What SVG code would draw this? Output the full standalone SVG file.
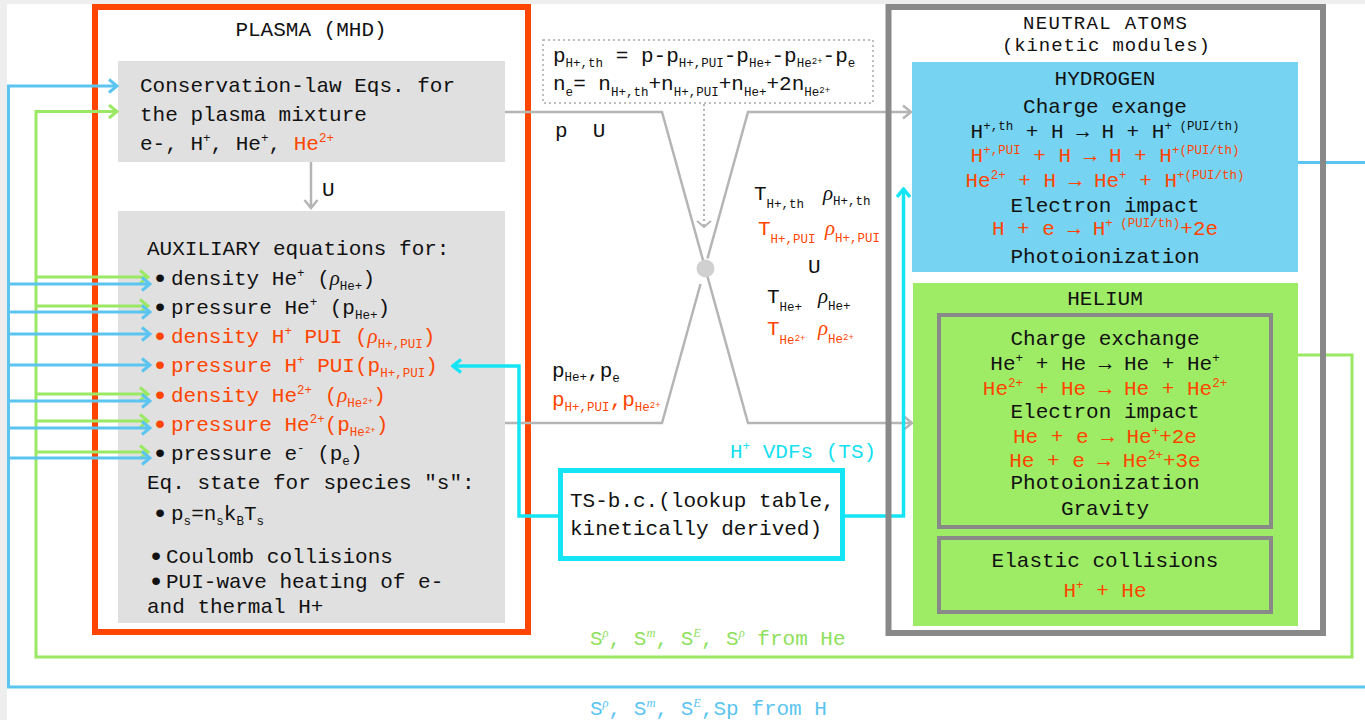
<svg xmlns="http://www.w3.org/2000/svg" width="1365" height="720" viewBox="0 0 1365 720">
<style>
.t{font-family:"Liberation Mono","DejaVu Sans Mono",monospace;font-size:21px;fill:#111;white-space:pre}
.o{fill:#ff4500}
.s{font-size:12.5px}
.ss{font-size:9px}
.r{font-family:"Liberation Serif","DejaVu Serif",serif;font-style:italic}
.m{text-anchor:middle}
.b{text-anchor:middle;stroke:#111;stroke-width:2}
.bo{fill:#ff4500;stroke:#ff4500}
.hd{font-size:19px}
.cy{fill:#14dff0}
.gl{fill:#8fe05c}
.bl{fill:#5bc4f0}
.box{fill:#e0e0e0}
.gline{fill:none;stroke:#b5b5b5;stroke-width:2.5}
.bline{fill:none;stroke:#5bc4f0;stroke-width:3}
.grline{fill:none;stroke:#9be864;stroke-width:3}
.cline{fill:none;stroke:#14e4f4;stroke-width:3.5}
</style>
<defs>
<marker id="mg" viewBox="0 0 12 16" refX="10" refY="8" markerWidth="12" markerHeight="16" markerUnits="userSpaceOnUse" orient="auto"><path d="M2,1.5 L10,8 L2,14.5" fill="none" stroke="#b5b5b5" stroke-width="2.5"/></marker>
<marker id="md" viewBox="0 0 16 10" refX="8" refY="8" markerWidth="16" markerHeight="10" markerUnits="userSpaceOnUse" orient="0"><path d="M1,2 L8,8 L15,2" fill="none" stroke="#b5b5b5" stroke-width="2"/></marker>
<marker id="mb" viewBox="0 0 12 16" refX="10" refY="8" markerWidth="12" markerHeight="16" markerUnits="userSpaceOnUse" orient="auto"><path d="M2,1.5 L10,8 L2,14.5" fill="none" stroke="#5bc4f0" stroke-width="3"/></marker>
<marker id="mgr" viewBox="0 0 12 16" refX="10" refY="8" markerWidth="12" markerHeight="16" markerUnits="userSpaceOnUse" orient="auto"><path d="M2,1.5 L10,8 L2,14.5" fill="none" stroke="#9be864" stroke-width="3"/></marker>
<marker id="mc" viewBox="0 0 12 16" refX="10" refY="8" markerWidth="12" markerHeight="16" markerUnits="userSpaceOnUse" orient="auto"><path d="M2,1.5 L10,8 L2,14.5" fill="none" stroke="#14e4f4" stroke-width="3.5"/></marker>
</defs>

<!-- page -->
<rect x="0" y="0" width="1365" height="720" fill="#eeeeee"/>
<rect x="7" y="4" width="1358" height="716" fill="#ffffff"/>

<!-- MHD plasma frame -->
<g id="plasma">
<rect x="95" y="7" width="433" height="625" fill="none" stroke="#ff4500" stroke-width="6"/>
<text class="t m" x="311" y="36">PLASMA (MHD)</text>
</g>

<g id="conservation">
<rect class="box" x="118" y="61" width="387" height="101"/>
<text class="t" x="140" y="92">Conservation-law Eqs. for</text>
<text class="t" x="140" y="121">the plasma mixture</text>
<text class="t" x="140" y="150">e-, H<tspan class="s" dy="-8">+</tspan><tspan dy="8">, He</tspan><tspan class="s" dy="-8">+</tspan><tspan dy="8">, </tspan><tspan class="o">He</tspan><tspan class="s o" dy="-8">2+</tspan></text>
</g>

<g id="auxiliary">
<rect class="box" x="118" y="211" width="387" height="412"/>
<text class="t" x="147" y="255">AUXILIARY equations for:</text>
<text class="t b" x="160" y="285">•</text>
<text class="t" x="171" y="285">density He<tspan class="s" dy="-8">+</tspan><tspan dy="8"> (</tspan><tspan class="r">ρ</tspan><tspan class="s" dy="5">He+</tspan><tspan dy="-5">)</tspan></text>
<text class="t b" x="160" y="314">•</text>
<text class="t" x="171" y="314">pressure He<tspan class="s" dy="-8">+</tspan><tspan dy="8"> (p</tspan><tspan class="s" dy="5">He+</tspan><tspan dy="-5">)</tspan></text>
<text class="t b bo" x="160" y="343">•</text>
<text class="t o" x="171" y="343">density H<tspan class="s" dy="-8">+</tspan><tspan dy="8"> PUI (</tspan><tspan class="r">ρ</tspan><tspan class="s" dy="5">H+,PUI</tspan><tspan dy="-5">)</tspan></text>
<text class="t b bo" x="160" y="372">•</text>
<text class="t o" x="171" y="372">pressure H<tspan class="s" dy="-8">+</tspan><tspan dy="8"> PUI(p</tspan><tspan class="s" dy="5">H+,PUI</tspan><tspan dy="-5">)</tspan></text>
<text class="t b bo" x="160" y="402">•</text>
<text class="t o" x="171" y="402">density He<tspan class="s" dy="-8">2+</tspan><tspan dy="8"> (</tspan><tspan class="r">ρ</tspan><tspan class="s" dy="5">He</tspan><tspan class="ss" dy="-3">2+</tspan><tspan dy="-2">)</tspan></text>
<text class="t b bo" x="160" y="431">•</text>
<text class="t o" x="171" y="431">pressure He<tspan class="s" dy="-8">2+</tspan><tspan dy="8">(p</tspan><tspan class="s" dy="5">He</tspan><tspan class="ss" dy="-3">2+</tspan><tspan dy="-2">)</tspan></text>
<text class="t b" x="160" y="460">•</text>
<text class="t" x="171" y="460">pressure e<tspan class="s" dy="-8">-</tspan><tspan dy="8"> (p</tspan><tspan class="s" dy="5">e</tspan><tspan dy="-5">)</tspan></text>
<text class="t" x="147" y="489">Eq. state for species "s":</text>
<text class="t b" x="160" y="520">•</text>
<text class="t" x="171" y="520">p<tspan class="s" dy="5">s</tspan><tspan dy="-5">=n</tspan><tspan class="s" dy="5">s</tspan><tspan dy="-5">k</tspan><tspan class="s" dy="5">B</tspan><tspan dy="-5">T</tspan><tspan class="s" dy="5">s</tspan></text>
<text class="t b" x="156" y="563">•</text>
<text class="t" x="166" y="563">Coulomb collisions</text>
<text class="t b" x="156" y="588">•</text>
<text class="t" x="166" y="588">PUI-wave heating of e-</text>
<text class="t" x="147" y="613">and thermal H+</text>
</g>

<!-- closure relations -->
<g id="closure">
<rect x="543" y="40" width="330" height="63" fill="none" stroke="#aaaaaa" stroke-width="1.5" stroke-dasharray="2 3"/>
<text class="t" x="553" y="62">p<tspan class="s" dy="5">H+,th</tspan><tspan dy="-5"> = p-p</tspan><tspan class="s" dy="5">H+,PUI</tspan><tspan dy="-5">-p</tspan><tspan class="s" dy="5">He+</tspan><tspan dy="-5">-p</tspan><tspan class="s" dy="5">He</tspan><tspan class="ss" dy="-3">2+</tspan><tspan dy="-2">-p</tspan><tspan class="s" dy="5">e</tspan></text>
<text class="t" x="553" y="90">n<tspan class="s" dy="6">e</tspan><tspan dy="-6">= n</tspan><tspan class="s" dy="6">H+,th</tspan><tspan dy="-6">+n</tspan><tspan class="s" dy="6">H+,PUI</tspan><tspan dy="-6">+n</tspan><tspan class="s" dy="6">He+</tspan><tspan dy="-6">+2n</tspan><tspan class="s" dy="6">He</tspan><tspan class="ss" dy="-3">2+</tspan></text>
</g>

<!-- exchanged quantities -->
<g id="labels">
<text class="t" x="555" y="137">p  U</text>
<text class="t" x="754" y="200">T<tspan class="s" dy="8">H+,th</tspan></text>
<text class="t" x="823" y="200"><tspan class="r">ρ</tspan><tspan class="s" dy="5">H+,th</tspan></text>
<text class="t o" x="758" y="235">T<tspan class="s" dy="8">H+,PUI</tspan></text>
<text class="t o" x="825" y="235"><tspan class="r">ρ</tspan><tspan class="s" dy="7">H+,PUI</tspan></text>
<text class="t" x="808" y="273">U</text>
<text class="t" x="767" y="303">T<tspan class="s" dy="8">He+</tspan></text>
<text class="t" x="818" y="303"><tspan class="r">ρ</tspan><tspan class="s" dy="7">He+</tspan></text>
<text class="t o" x="767" y="335">T<tspan class="s" dy="9">He</tspan><tspan class="ss" dy="-3">2+</tspan></text>
<text class="t o" x="818" y="335"><tspan class="r">ρ</tspan><tspan class="s" dy="8">He</tspan><tspan class="ss" dy="-3">2+</tspan></text>
<text class="t" x="552" y="377">p<tspan class="s" dy="4">He+</tspan><tspan dy="-4">,p</tspan><tspan class="s" dy="5">e</tspan></text>
<text class="t o" x="552" y="406">p<tspan class="s" dy="5">H+,PUI</tspan><tspan dy="-5">,p</tspan><tspan class="s" dy="5">He</tspan><tspan class="ss" dy="-3">2+</tspan></text>
<text class="t cy" x="730" y="458">H<tspan class="s" dy="-8">+</tspan><tspan dy="8"> VDFs (TS)</tspan></text>
<text class="t gl" x="590" y="645">S<tspan class="s r" dy="-8">ρ</tspan><tspan dy="8">, S</tspan><tspan class="s r" dy="-8">m</tspan><tspan dy="8">, S</tspan><tspan class="s r" dy="-8">E</tspan><tspan dy="8">, S</tspan><tspan class="s r" dy="-8">ρ</tspan><tspan dy="8"> from He</tspan></text>
<text class="t bl" x="590" y="715">S<tspan class="s r" dy="-8">ρ</tspan><tspan dy="8">, S</tspan><tspan class="s r" dy="-8">m</tspan><tspan dy="8">, S</tspan><tspan class="s r" dy="-8">E</tspan><tspan dy="8">,Sp from H</tspan></text>
</g>

<!-- connectors -->
<g id="connectors">
<line class="gline" x1="311" y1="162" x2="311" y2="208" marker-end="url(#mg)"/>
<text class="t" x="322" y="196">U</text>
<path class="gline" d="M505,112 H662 L748,423 H912" marker-end="url(#mg)"/>
<path class="gline" d="M505,423 H662 L700.5,284"/>
<path class="gline" d="M707.5,258.5 L748,112 H911" marker-end="url(#mg)"/>
<circle cx="705.5" cy="268.5" r="9" fill="#d0d0d0"/>
<line x1="704" y1="104" x2="704" y2="227" stroke="#b5b5b5" stroke-width="2" stroke-dasharray="2 3" marker-end="url(#md)"/>
<path class="cline" d="M558,516 H519 V366 H453" marker-end="url(#mc)"/>
<path class="cline" d="M845,516 H903.5 V189" marker-end="url(#mc)"/>
<path class="bline" d="M1298,162.5 H1365"/>
<path class="bline" d="M1365,687 H8.5 V86 H117" marker-end="url(#mb)"/>
<path class="grline" d="M1298,355 H1352 V657 H36 V111.5 H117" marker-end="url(#mgr)"/>
<path class="grline" d="M36,277 H148" marker-end="url(#mgr)"/>
<path class="grline" d="M36,306 H148" marker-end="url(#mgr)"/>
<path class="grline" d="M36,394 H148" marker-end="url(#mgr)"/>
<path class="grline" d="M36,421 H148" marker-end="url(#mgr)"/>
<path class="grline" d="M36,452 H148" marker-end="url(#mgr)"/>
<path class="bline" d="M8.5,284 H150" marker-end="url(#mb)"/>
<path class="bline" d="M8.5,312 H150" marker-end="url(#mb)"/>
<path class="bline" d="M8.5,334 H150" marker-end="url(#mb)"/>
<path class="bline" d="M8.5,365 H150" marker-end="url(#mb)"/>
<path class="bline" d="M8.5,401 H150" marker-end="url(#mb)"/>
<path class="bline" d="M8.5,428 H150" marker-end="url(#mb)"/>
<path class="bline" d="M8.5,458 H150" marker-end="url(#mb)"/>
</g>

<!-- termination-shock boundary condition -->
<g id="ts-bc">
<rect x="560.5" y="470.5" width="282" height="88" fill="#ffffff" stroke="#14e4f4" stroke-width="5"/>
<text class="t" x="570" y="507">TS-b.c.(lookup table,</text>
<text class="t" x="570" y="535">kinetically derived)</text>
</g>

<!-- kinetic neutral modules -->
<g id="neutral">
<rect x="888.5" y="7" width="434.5" height="626" fill="none" stroke="#898989" stroke-width="6"/>
<text class="t m hd" x="1105" y="29" textLength="164" lengthAdjust="spacing">NEUTRAL ATOMS</text>
<text class="t m hd" x="1106" y="51" textLength="208" lengthAdjust="spacing">(kinetic modules)</text>
</g>

<g id="hydrogen">
<rect x="912" y="62" width="386" height="210" fill="#76d4f2"/>
<text class="t m" x="1105" y="85">HYDROGEN</text>
<text class="t m" x="1105" y="113">Charge exange</text>
<text class="t m" x="1105" y="138">H<tspan class="s" dy="-8">+,th</tspan><tspan dy="8"> + H → H + H</tspan><tspan class="s" dy="-8">+ (PUI/th)</tspan></text>
<text class="t m o" x="1105" y="162">H<tspan class="s" dy="-8">+,PUI</tspan><tspan dy="8"> + H → H + H</tspan><tspan class="s" dy="-8">+(PUI/th)</tspan></text>
<text class="t m o" x="1105" y="187">He<tspan class="s" dy="-8">2+</tspan><tspan dy="8"> + H → He</tspan><tspan class="s" dy="-8">+</tspan><tspan dy="8"> + H</tspan><tspan class="s" dy="-8">+(PUI/th)</tspan></text>
<text class="t m" x="1105" y="212">Electron impact</text>
<text class="t m o" x="1105" y="235">H + e → H<tspan class="s" dy="-8">+ (PUI/th)</tspan><tspan dy="8">+2e</tspan></text>
<text class="t m" x="1105" y="263">Photoionization</text>
</g>

<g id="helium">
<rect x="913" y="283" width="385" height="343" fill="#9eec66"/>
<text class="t m" x="1105" y="305">HELIUM</text>
<rect x="939" y="315" width="332" height="212" fill="none" stroke="#898989" stroke-width="4"/>
<text class="t m" x="1105" y="345">Charge exchange</text>
<text class="t m" x="1105" y="370">He<tspan class="s" dy="-8">+</tspan><tspan dy="8"> + He → He + He</tspan><tspan class="s" dy="-8">+</tspan></text>
<text class="t m o" x="1105" y="395">He<tspan class="s" dy="-8">2+</tspan><tspan dy="8"> + He → He + He</tspan><tspan class="s" dy="-8">2+</tspan></text>
<text class="t m" x="1105" y="418">Electron impact</text>
<text class="t m o" x="1105" y="443">He + e → He<tspan class="s" dy="-8">+</tspan><tspan dy="8">+2e</tspan></text>
<text class="t m o" x="1105" y="467">He + e → He<tspan class="s" dy="-8">2+</tspan><tspan dy="8">+3e</tspan></text>
<text class="t m" x="1105" y="489">Photoionization</text>
<text class="t m" x="1105" y="515">Gravity</text>
<rect x="939" y="538" width="332" height="74" fill="none" stroke="#898989" stroke-width="4"/>
<text class="t m" x="1105" y="567">Elastic collisions</text>
<text class="t m o" x="1105" y="597">H<tspan class="s" dy="-8">+</tspan><tspan dy="8"> + He</tspan></text>
</g>
</svg>
